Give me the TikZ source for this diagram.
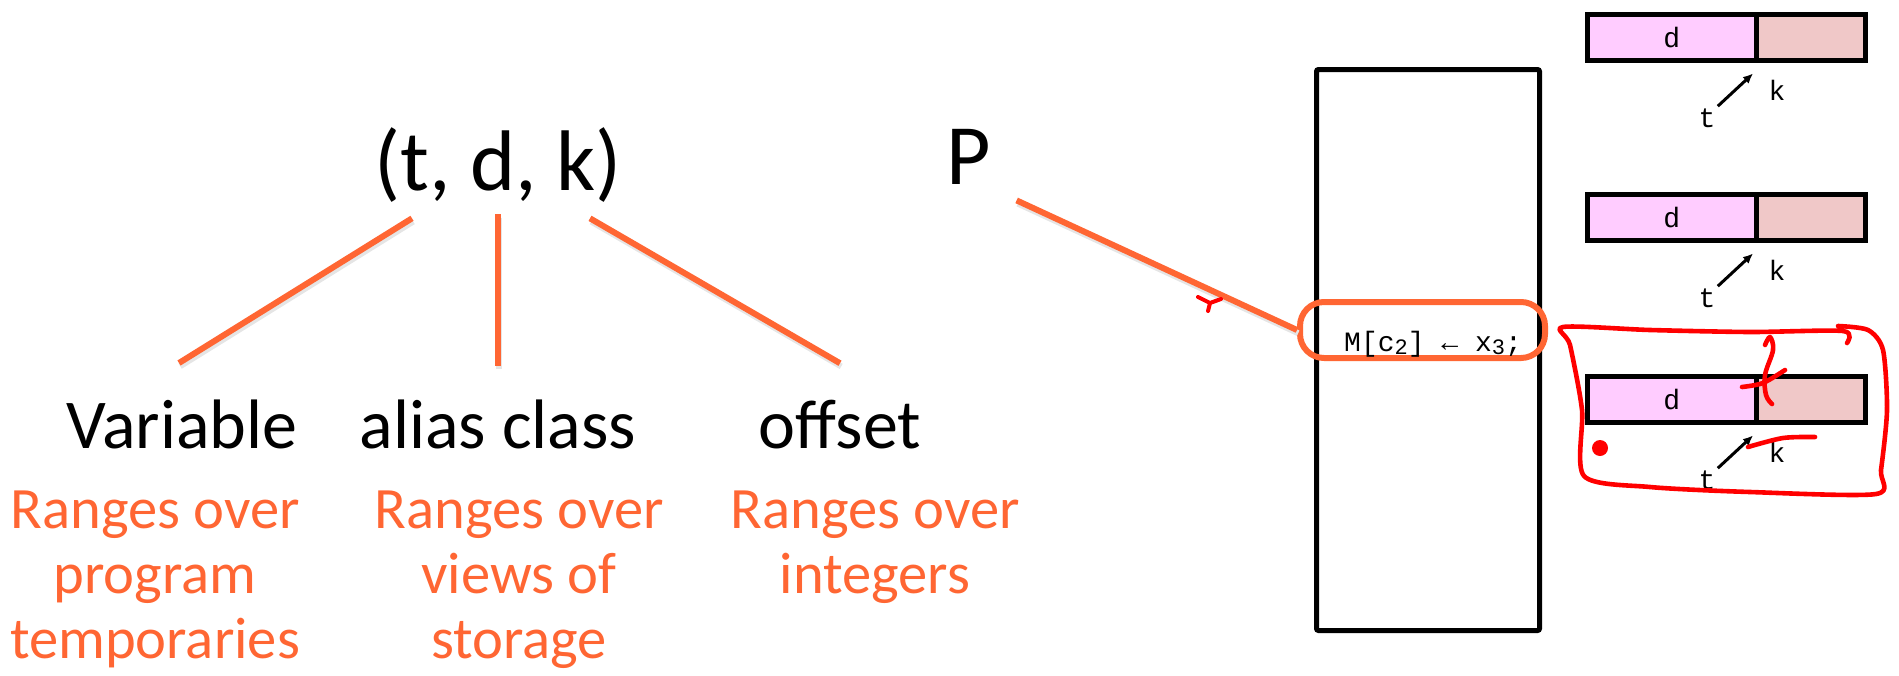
\documentclass[tikz,border=0pt]{standalone}
\usepackage{fontspec}
\setmainfont{Carlito}
\newfontfamily\monofont{Liberation Mono}
\usetikzlibrary{arrows.meta,positioning}
\definecolor{tangerine}{HTML}{FF6633}
\definecolor{lilac}{HTML}{FFCCFF}
\definecolor{rosy}{HTML}{F0C8C8}
\definecolor{ink}{HTML}{FF0000}
\newcommand{\lowdigit}[1]{\raisebox{-0.2ex}{\fontsize{11}{11}\selectfont#1}}
\tikzset{
  >={Latex[length=5pt,width=4.5pt]},
  branch/.style={line width=3pt,draw=tangerine,
    preaction={draw=black!10,line width=3pt,transform canvas={shift={(0.6pt,-1.6pt)}}}},
  word/.style={anchor=base,inner sep=0pt,font=\fontsize{35}{42}\selectfont},
  bigword/.style={word,font=\fontsize{43}{50}\selectfont},
  gloss/.style={anchor=north,inner sep=0pt,align=center,text=tangerine,
    font=\fontsize{29.3}{32.6}\selectfont},
  cellL/.style={draw,line width=2.5pt,fill=lilac,minimum width=84.25pt,minimum height=23pt,
    inner sep=0pt,outer sep=0pt,font=\monofont\fontsize{14}{16}\selectfont},
  cellR/.style={cellL,fill=rosy,minimum width=54.75pt},
  mono/.style={inner sep=1pt,font=\monofont\fontsize{14}{16}\selectfont},
  ptr/.style={->,line width=1.5pt},
  scribble/.style={draw=ink,line width=2.3pt,line cap=round,line join=round}
}
\begin{document}
\begin{tikzpicture}[x=0.5pt,y=-0.5pt]
  \useasboundingbox (0,0) rectangle (1899,675);
  % the triple and what each part means
  \node[bigword] (tuple) at (498,190) {(t, d, k)};
  \node[word] (var) at (182,448) {Variable};
  \node[word] (alias) at (498,448) {alias class};
  \node[word] (off) at (840,448) {offset};
  \node[gloss] (varR) at (155,490) {Ranges over\\program\\temporaries};
  \node[gloss] (aliasR) at (519,490) {Ranges over\\views of\\storage};
  \node[gloss] (offR) at (875,490) {Ranges over\\integers};
  \draw[branch] ([xshift=-43pt,yshift=-8pt]tuple.south) -- ([xshift=-1.5pt,yshift=18pt]var.north);
  \draw[branch] ([yshift=-6pt]tuple.south) -- ([yshift=16.5pt]alias.north);
  \draw[branch] ([xshift=46pt,yshift=-8pt]tuple.south) -- ([yshift=18pt]off.north);
  % program with the store statement
  \node[bigword] (prgP) at (969,184) {P};
  \node[draw,line width=2.5pt,rounded corners=1pt,minimum width=111.5pt,minimum height=280.5pt] (prog) at (1428,350) {};
  \node[draw=tangerine,line width=3pt,rounded corners=12pt,minimum width=122.5pt,minimum height=28pt] (stmt) at (1422.5,330) {};
  \node[mono] (asg) at (1433,344) {M[c\lowdigit{2}] ← x\lowdigit{3};};
  \draw[branch] ([xshift=12.5pt,yshift=-8pt]prgP.south east) -- (stmt.west);
  \draw[scribble,line width=2pt] (1198,297) -- (1210,303) -- (1221,299) (1210,303) -- (1208,311);
  % memory cells
  \foreach \n/\y in {1/37.5,2/217.5,3/399.5}{
    \node[cellL] (d\n) at (1671.75,\y) {d};
    \node[cellR,right=0pt of d\n] (k\n) {};
    \node[mono] (kl\n) at ([xshift=10.5pt,yshift=-14.75pt]d\n.south east) {k};
    \node[mono] (tl\n) at ([xshift=-24.5pt,yshift=-28.75pt]d\n.south east) {t};
    \draw[ptr] (tl\n.north east) -- ([xshift=-1.5pt,yshift=-6.5pt]d\n.south east);
  }
  % hand marks
  \draw[scribble] plot[smooth,tension=0.45] coordinates {(1847,343) (1843,331) (1750,332) (1650,330)
    (1563,327) (1570,345) (1582,410) (1584,476) (1650,487) (1750,492) (1876,494) (1881,470)
    (1887,410) (1883,350) (1868,330) (1838,326)};
  \draw[scribble] plot[smooth,tension=0.6] coordinates {(1765,345) (1770,337) (1773,350) (1765,375) (1766,395) (1772,404)};
  \draw[scribble] plot[smooth] coordinates {(1742,387) (1763,383) (1785,370)};
  \draw[scribble] plot[smooth] coordinates {(1748,447) (1783,438) (1815,437)};
  \fill[ink] (1600,448) circle (8);
\end{tikzpicture}
\end{document}
